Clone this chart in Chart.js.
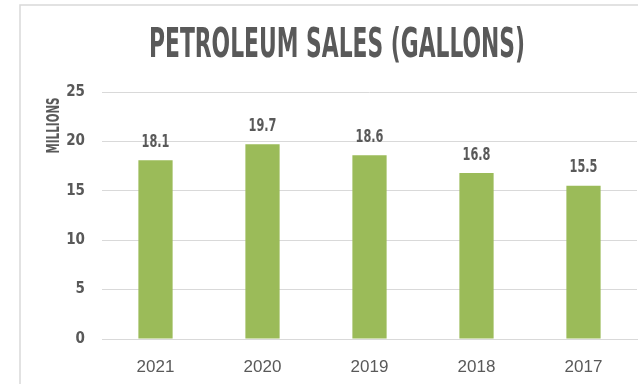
<!DOCTYPE html>
<html>
<head>
<meta charset="utf-8">
<script src="https://cdn.jsdelivr.net/npm/chart.js@4"></script>
<style>
  html, body { margin: 0; padding: 0; background: #fff; overflow: hidden; }
  #wrap { position: relative; width: 638px; height: 384px; }
</style>
</head>
<body>
<div id="wrap"><canvas id="chart" width="638" height="384"></canvas></div>
<script>
const title = 'PETROLEUM SALES (GALLONS)';
const axisTitle = 'MILLIONS';
const years = ['2021', '2020', '2019', '2018', '2017'];
const sales = [18.1, 19.7, 18.6, 16.8, 15.5];
const yTicks = [0, 5, 10, 15, 20, 25];

const condensed = "'Liberation Sans Narrow', 'DejaVu Sans Condensed', sans-serif";
const grey = '#595959';

// squeezed text, to get near the tall narrow font of the original
function squeezeText(ctx, text, x, y, sx) {
    ctx.save();
    ctx.translate(x, y);
    ctx.scale(sx, 1);
    ctx.fillText(text, 0, 0);
    ctx.restore();
}

const decor = {
    id: 'decor',
    beforeDraw(chart) {
        const ctx = chart.ctx;
        ctx.save();
        ctx.fillStyle = '#fff';
        ctx.fillRect(0, 0, chart.width, chart.height);
        // outer frame (only left and top visible)
        ctx.strokeStyle = '#d9d9d9';
        ctx.lineWidth = 1.5;
        ctx.beginPath();
        ctx.moveTo(20, chart.height);
        ctx.lineTo(20, 5);
        ctx.lineTo(chart.width, 5);
        ctx.stroke();
        ctx.restore();
    },
    afterDraw(chart) {
        const ctx = chart.ctx;
        ctx.save();
        ctx.fillStyle = grey;
        ctx.textAlign = 'center';
        ctx.textBaseline = 'alphabetic';

        // title
        ctx.font = "bold 41px " + condensed;
        const tw = ctx.measureText(title).width;
        squeezeText(ctx, title, 337, 57, 376 / tw);

        // y axis title, rotated
        ctx.font = "bold 18px " + condensed;
        const aw = ctx.measureText(axisTitle).width;
        ctx.save();
        ctx.translate(58.5, 125.5);
        ctx.rotate(-Math.PI / 2);
        ctx.scale(56 / aw, 1);
        ctx.fillText(axisTitle, 0, 0);
        ctx.restore();

        // value labels above bars
        ctx.font = "bold 18px " + condensed;
        const meta = chart.getDatasetMeta(0);
        meta.data.forEach((bar, i) => {
            squeezeText(ctx, sales[i].toFixed(1), bar.x, bar.y - 13.5, 0.7);
        });
        ctx.restore();
    }
};

new Chart(document.getElementById('chart'), {
    type: 'bar',
    data: {
        labels: years,
        datasets: [{
            data: sales,
            backgroundColor: '#9bbb59',
            borderWidth: 0,
            categoryPercentage: 1,
            barPercentage: 0.32
        }]
    },
    options: {
        responsive: false,
        animation: false,
        devicePixelRatio: 1,
        layout: { padding: { top: 92, right: 1, left: 0, bottom: 0 } },
        plugins: { legend: { display: false }, tooltip: { enabled: false } },
        scales: {
            x: {
                grid: { display: false, drawTicks: false },
                border: { display: true, color: '#d9d9d9' },
                ticks: { color: grey, padding: 18, font: { family: "'Liberation Sans', Arial, sans-serif", size: 17 } },
                afterFit(s) { s.height = 45; }
            },
            y: {
                min: 0,
                max: 25,
                afterBuildTicks(s) { s.ticks = yTicks.map(v => ({ value: v })); },
                grid: { color: '#d9d9d9', drawTicks: false },
                border: { display: false },
                ticks: { color: grey, padding: 17, font: { family: condensed, weight: 'bold', size: 15 } },
                afterFit(s) { s.width = 102; }
            }
        }
    },
    plugins: [decor]
});
</script>
</body>
</html>
